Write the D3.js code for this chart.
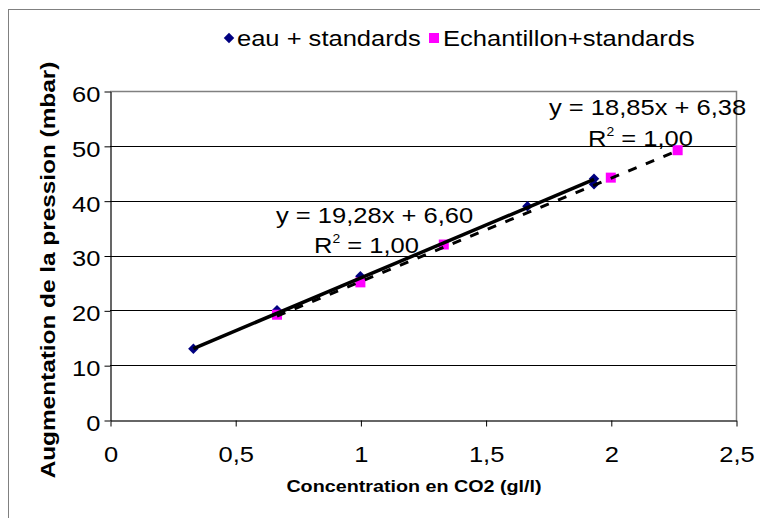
<!DOCTYPE html>
<html>
<head>
<meta charset="utf-8">
<script src="https://cdn.jsdelivr.net/npm/d3@7"></script>
<style>
  html, body { margin: 0; padding: 0; background: #fff; }
  svg { display: block; }
  text { font-family: "Liberation Sans", Arial, sans-serif; fill: #000; }
</style>
</head>
<body>
<svg id="chart" width="760" height="518"></svg>
<script>
// ---- data ----
const seriesNames = ["eau + standards", "Echantillon+standards"];
const xEau = [0.333, 0.667, 1.0, 1.667, 1.933, 1.933];
const yEau = [13.0, 20.0, 26.2, 39.0, 44.0, 43.0];
const xEch = [0.667, 1.0, 1.333, 2.0, 2.267];
const yEch = [19.2, 25.1, 32.0, 44.2, 49.2];
const trendSlope = [19.28, 18.85];
const trendIntercept = [6.60, 6.38];
const trendLabels = ["y = 19,28x + 6,60", "y = 18,85x + 6,38"];
const r2Labels = [" = 1,00", " = 1,00"];
const xTicks = [0, 0.5, 1, 1.5, 2, 2.5];
const yTicks = [0, 10, 20, 30, 40, 50, 60];
const xTitle = "Concentration en CO2 (gl/l)";
const yTitle = "Augmentation de la pression (mbar)";

// ---- layout ----
const S = 1.16; // horizontal glyph stretch of the original rendering
const svg = d3.select("#chart");
const L = 110, R = 736, T = 91, B = 420;
const x = d3.scaleLinear().domain([0, 2.5]).range([L, R]);
const y = d3.scaleLinear().domain([0, 60]).range([B, T]);
const fmt = d => d3.format("")(d).replace(".", ",");

// outer chart border
svg.append("rect").attr("x", 8.5).attr("y", 9.5).attr("width", 900).attr("height", 900)
  .attr("fill", "none").attr("stroke", "#808080").attr("stroke-width", 1);

// gridlines
svg.append("g").selectAll("line").data(yTicks.filter(d => d > 0 && d < 60)).join("line")
  .attr("x1", L).attr("x2", R)
  .attr("y1", d => Math.round(y(d)) + 0.5).attr("y2", d => Math.round(y(d)) + 0.5)
  .attr("stroke", "#000").attr("stroke-width", 1);

// plot border (top, right)
svg.append("path")
  .attr("d", `M${L},${T + 0.5}H${R + 0.5}V${B}`)
  .attr("fill", "none").attr("stroke", "#808080").attr("stroke-width", 1.5);

// axes
const yAxis = svg.append("g").attr("transform", `translate(${L + 0.5},0.5)`)
  .call(d3.axisLeft(y).tickValues(yTicks).tickSize(6).tickSizeOuter(0).tickFormat(fmt));
yAxis.select(".domain").attr("stroke", "#000").attr("stroke-width", 1.2);
yAxis.selectAll(".tick line").attr("stroke", "#000");
yAxis.selectAll(".tick text")
  .attr("x", -10 / S).attr("dy", "0.45em")
  .attr("transform", `scale(${S},1)`)
  .style("font-size", "22px").style("font-family", "'Liberation Sans', Arial, sans-serif");

const xAxis = svg.append("g").attr("transform", `translate(0.5,${B + 0.5})`)
  .call(d3.axisBottom(x).tickValues(xTicks).tickSize(6).tickSizeOuter(0).tickPadding(20).tickFormat(fmt));
xAxis.select(".domain").attr("stroke", "#333").attr("stroke-width", 1.5);
xAxis.selectAll(".tick line").attr("stroke", "#000");
xAxis.selectAll(".tick text")
  .attr("transform", `scale(${S},1)`)
  .style("font-size", "22px").style("font-family", "'Liberation Sans', Arial, sans-serif");

// axis titles
svg.append("text")
  .attr("transform", `translate(414,492) scale(${S},1)`)
  .attr("text-anchor", "middle").style("font-size", "17px").style("font-weight", "bold")
  .text(xTitle);
svg.append("text")
  .attr("transform", `translate(55,270) rotate(-90) scale(${S},1)`)
  .attr("text-anchor", "middle").style("font-size", "21px").style("font-weight", "bold")
  .text(yTitle);

// markers
const eau = xEau.map((d, i) => ({ x: d, y: yEau[i] }));
const ech = xEch.map((d, i) => ({ x: d, y: yEch[i] }));
const diamond = d3.symbol().type(d3.symbolDiamond2).size(70);
svg.append("g").selectAll("path").data(eau).join("path")
  .attr("d", diamond)
  .attr("transform", d => `translate(${x(d.x)},${y(d.y)})`)
  .attr("fill", "#000080");
svg.append("g").selectAll("rect").data(ech).join("rect")
  .attr("x", d => x(d.x) - 5).attr("y", d => y(d.y) - 5)
  .attr("width", 10).attr("height", 10)
  .attr("fill", "#FF00FF");

// trendlines
const trendData = [eau, ech].map((s, i) => {
  const ext = d3.extent(s, d => d.x);
  return ext.map(xx => ({ x: xx, y: trendSlope[i] * xx + trendIntercept[i] }));
});
const line = d3.line().x(d => x(d.x)).y(d => y(d.y));
svg.append("path").attr("d", line(trendData[1]))
  .attr("fill", "none").attr("stroke", "#000").attr("stroke-width", 3)
  .attr("stroke-dasharray", "9,10");
svg.append("path").attr("d", line(trendData[0]))
  .attr("fill", "none").attr("stroke", "#000").attr("stroke-width", 3.5);

// trendline labels
const labelPos = [
  { ex: 276, ey: 223, rx: 314, ry: 253 },
  { ex: 549, ey: 115, rx: 588, ry: 146 }
];
labelPos.forEach((p, i) => {
  svg.append("text")
    .attr("transform", `translate(${p.ex},${p.ey}) scale(${S},1)`)
    .style("font-size", "22px").text(trendLabels[i]);
  const t = svg.append("text")
    .attr("transform", `translate(${p.rx},${p.ry}) scale(${S},1)`)
    .style("font-size", "22px");
  t.append("tspan").text("R");
  t.append("tspan").attr("dy", -10).style("font-size", "12px").text("2");
  t.append("tspan").attr("dy", 10).text(r2Labels[i]);
});

// legend
const lg = svg.append("g");
lg.append("path").attr("d", diamond).attr("transform", "translate(229,38)").attr("fill", "#000080");
lg.append("text").attr("transform", `translate(237,46) scale(${S},1)`)
  .style("font-size", "22px").text(seriesNames[0]);
lg.append("rect").attr("x", 429).attr("y", 33).attr("width", 10).attr("height", 10).attr("fill", "#FF00FF");
lg.append("text").attr("transform", `translate(443,46) scale(${S},1)`)
  .style("font-size", "22px").text(seriesNames[1]);
</script>
</body>
</html>
